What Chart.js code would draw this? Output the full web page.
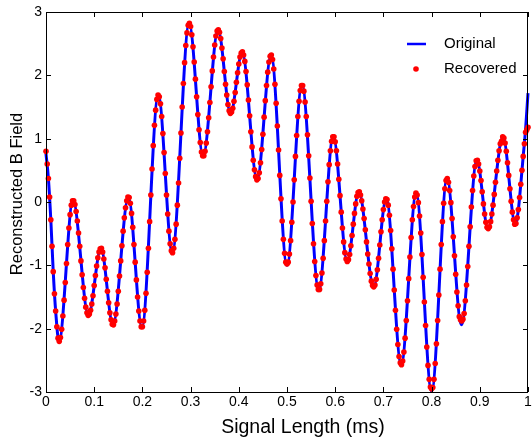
<!DOCTYPE html>
<html>
<head>
<meta charset="utf-8">
<script src="https://cdn.jsdelivr.net/npm/chart.js@4.4.1/dist/chart.umd.min.js"></script>
<style>
  html, body { margin: 0; padding: 0; background: #fff; }
  #wrap { width: 532px; height: 439px; }
</style>
</head>
<body>
<div id="wrap"><canvas id="chart-b-field"></canvas></div>
<script>
// original signal: turning points (ms, field)
const original_time = [
  0, 0.005, 0.010, 0.015, 0.020, 0.027, 0.056, 0.088, 0.114, 0.139,
  0.171, 0.199, 0.233, 0.262, 0.297, 0.326, 0.357, 0.383, 0.407, 0.438,
  0.467, 0.500, 0.531, 0.566, 0.596, 0.625, 0.649, 0.680, 0.706, 0.737,
  0.768, 0.800, 0.832, 0.862, 0.894, 0.917, 0.948, 0.974, 0.980, 0.985,
  0.990, 0.995, 1.000
];
const original_field = [
  0.76, 0.37, -0.28, -1.10, -1.72, -2.20, 0.03, -1.79, -0.73, -1.94,
  0.08, -1.98, 1.69, -0.80, 2.82, 0.72, 2.72, 1.40, 2.37, 0.35,
  2.32, -1.00, 1.85, -1.39, 1.04, -0.94, 0.16, -1.34, 0.06, -2.57,
  0.14, -2.99, 0.37, -1.94, 0.66, -0.42, 1.03, -0.36, -0.12, 0.28,
  0.72, 1.15, 1.72
];

// recovered samples every 0.005 ms, from 0 to 1
const recovered_step = 0.005;
const recovered_field = [
  0.80, 0.37, -0.28, -1.10, -1.72, -2.15,
  -2.14, -1.80, -1.27, -0.67, -0.20, 0.02,
  -0.04, -0.30, -0.70, -1.15, -1.52, -1.75,
  -1.77, -1.61, -1.32, -1.01, -0.79,
  -0.73, -0.90, -1.22, -1.59, -1.86,
  -1.94, -1.77, -1.41, -0.93, -0.46, -0.09, 0.08,
  -0.02, -0.40, -0.95, -1.50, -1.88,
  -1.97, -1.71, -1.11, -0.31, 0.52, 1.21, 1.62,
  1.66, 1.35, 0.78, 0.11, -0.46, -0.77,
  -0.73, -0.35, 0.30, 1.09, 1.87, 2.47, 2.79,
  2.77, 2.45, 1.94, 1.38, 0.94, 0.73,
  0.80, 1.11, 1.57, 2.07, 2.48, 2.70,
  2.68, 2.43, 2.06, 1.69, 1.44,
  1.42, 1.59, 1.89, 2.18, 2.35,
  2.32, 2.06, 1.61, 1.11, 0.66, 0.40,
  0.37, 0.62, 1.07, 1.60, 2.05, 2.30,
  2.25, 1.86, 1.20, 0.42, -0.30, -0.81, -0.98,
  -0.82, -0.32, 0.35, 1.05, 1.59, 1.84,
  1.75, 1.35, 0.73, 0.01, -0.66, -1.16, -1.38,
  -1.29, -0.89, -0.30, 0.32, 0.81, 1.03,
  0.95, 0.60, 0.10, -0.41, -0.80,
  -0.94, -0.83, -0.53, -0.18, 0.09,
  0.16, 0.02, -0.26, -0.63, -0.98, -1.25,
  -1.34, -1.22, -0.89, -0.47, -0.12, 0.05,
  -0.05, -0.45, -1.06, -1.71, -2.25, -2.54,
  -2.51, -2.15, -1.56, -0.87, -0.28, 0.08,
  0.11, -0.22, -0.83, -1.58, -2.29, -2.80, -2.95,
  -2.80, -2.24, -1.47, -0.67, -0.02, 0.34,
  0.31, -0.01, -0.55, -1.14, -1.64, -1.86,
  -1.85, -1.56, -1.02, -0.39, 0.18, 0.56,
  0.66, 0.49, 0.16, -0.19, -0.40,
  -0.39, -0.19, 0.12, 0.49, 0.81, 0.96,
  1.01, 0.80, 0.42, 0.01, -0.28,
  -0.34, -0.12, 0.28, 0.72, 1.10, 1.18
];

// recovered samples in between, at 0.0025, 0.0075, ... 0.9975 ms
const recovered_field_half = [
  0.60, 0.08, -0.70, -1.45, -1.97,
  -2.20, -2.01, -1.55, -0.97, -0.41, -0.05,
  0.02, -0.15, -0.49, -0.93, -1.35, -1.66, -1.79,
  -1.71, -1.48, -1.16, -0.88, -0.74,
  -0.79, -1.04, -1.41, -1.75, -1.93,
  -1.88, -1.61, -1.17, -0.69, -0.25, 0.02,
  0.07, -0.18, -0.67, -1.23, -1.72, -1.97,
  -1.88, -1.44, -0.73, 0.11, 0.89, 1.45, 1.69,
  1.55, 1.08, 0.45, -0.19, -0.66,
  -0.80, -0.59, -0.05, 0.69, 1.50, 2.20, 2.67,
  2.82, 2.64, 2.21, 1.66, 1.14, 0.79,
  0.73, 0.93, 1.33, 1.82, 2.29, 2.62,
  2.72, 2.58, 2.26, 1.86, 1.54, 1.40,
  1.48, 1.73, 2.04, 2.29,
  2.37, 2.22, 1.85, 1.36, 0.87, 0.51, 0.35,
  0.46, 0.83, 1.34, 1.84, 2.21,
  2.32, 2.10, 1.56, 0.82, 0.05, -0.59, -0.95,
  -0.95, -0.61, 0.00, 0.72, 1.35, 1.76,
  1.84, 1.58, 1.06, 0.38, -0.34, -0.94, -1.31,
  -1.38, -1.12, -0.61, 0.01, 0.59, 0.96,
  1.03, 0.81, 0.36, -0.16, -0.63, -0.90,
  -0.91, -0.69, -0.35, -0.03, 0.15,
  0.11, -0.11, -0.44, -0.82, -1.13, -1.32,
  -1.31, -1.07, -0.68, -0.28, 0.00,
  0.04, -0.21, -0.74, -1.39, -2.01, -2.44,
  -2.57, -2.37, -1.87, -1.21, -0.56, -0.07, 0.14,
  -0.01, -0.49, -1.19, -1.95, -2.58, -2.92,
  -2.93, -2.55, -1.87, -1.06, -0.31, 0.21,
  0.37, 0.18, -0.26, -0.85, -1.42, -1.81,
  -1.88, -1.76, -1.31, -0.70, -0.08, 0.41, 0.65,
  0.60, 0.34, -0.03, -0.32,
  -0.42, -0.31, -0.05, 0.31, 0.66, 0.92, 1.03,
  0.93, 0.62, 0.21, -0.16, -0.35,
  -0.25, 0.07, 0.50, 0.92, 1.14
];

const x_ticks = [0, 0.1, 0.2, 0.3, 0.4, 0.5, 0.6, 0.7, 0.8, 0.9, 1];
const y_ticks = [-3, -2, -1, 0, 1, 2, 3];

const series_names = ['Original', 'Recovered'];
const x_title = 'Signal Length (ms)';
const y_title = 'Reconstructed B Field';
const line_color = '#0000ff';
const dot_color = '#ff0000';

const font_family = "'Liberation Sans', Arial, Helvetica, sans-serif";
Chart.defaults.font.family = font_family;
Chart.defaults.color = '#000';

// matlab-ish frame: full box, ticks pointing inward, axis labels, legend without a box
const matlabFrame = {
  id: 'matlabFrame',
  afterDraw(chart) {
    const { ctx, chartArea: a, scales } = chart;
    ctx.save();
    ctx.strokeStyle = '#000';
    ctx.lineWidth = 1;
    ctx.strokeRect(a.left + 0.5, a.top + 0.5, a.right - a.left - 1, a.bottom - a.top);

    const tick = 5;
    ctx.beginPath();
    x_ticks.forEach(v => {
      const px = Math.round(scales.x.getPixelForValue(v)) + 0.5;
      ctx.moveTo(px, a.bottom); ctx.lineTo(px, a.bottom - tick);
      ctx.moveTo(px, a.top); ctx.lineTo(px, a.top + tick);
    });
    y_ticks.forEach(v => {
      const py = Math.round(scales.y.getPixelForValue(v)) + 0.5;
      ctx.moveTo(a.left, py); ctx.lineTo(a.left + tick, py);
      ctx.moveTo(a.right, py); ctx.lineTo(a.right - tick, py);
    });
    ctx.stroke();

    // axis titles
    ctx.fillStyle = '#000';
    ctx.textAlign = 'center';
    ctx.textBaseline = 'alphabetic';
    ctx.font = '19.5px ' + font_family;
    ctx.fillText(x_title, 303, 433);
    ctx.save();
    ctx.translate(22, 194);
    ctx.rotate(-Math.PI / 2);
    ctx.font = '16.5px ' + font_family;
    ctx.fillText(y_title, 0, 0);
    ctx.restore();

    // legend
    ctx.textAlign = 'left';
    ctx.textBaseline = 'middle';
    ctx.font = '15px ' + font_family;
    ctx.strokeStyle = line_color;
    ctx.lineWidth = 2.5;
    ctx.beginPath();
    ctx.moveTo(407, 44); ctx.lineTo(426, 44);
    ctx.stroke();
    ctx.fillText(series_names[0], 444, 44);
    ctx.fillStyle = dot_color;
    ctx.beginPath();
    ctx.arc(416, 69, 2.8, 0, Math.PI * 2);
    ctx.fill();
    ctx.fillStyle = '#000';
    ctx.fillText(series_names[1], 444, 69);
    ctx.restore();
  }
};

const recovered_points = recovered_field.map((v, i) => ({ x: i * recovered_step, y: v }))
  .concat(recovered_field_half.map((v, i) => ({ x: (i + 0.5) * recovered_step, y: v })));

const ctx = document.getElementById('chart-b-field');
new Chart(ctx, {
  type: 'line',
  plugins: [matlabFrame],
  data: {
    datasets: [
      {
        label: series_names[1],
        data: recovered_points,
        showLine: false,
        pointRadius: 2.8,
        pointBorderWidth: 0,
        pointBackgroundColor: dot_color,
        pointBorderColor: dot_color,
        clip: 6,
        order: 0
      },
      {
        label: series_names[0],
        data: original_time.map((t, i) => ({ x: t, y: original_field[i] })),
        borderColor: line_color,
        borderWidth: 3,
        pointRadius: 0,
        fill: false,
        cubicInterpolationMode: 'monotone',
        clip: 4,
        order: 1
      }
    ]
  },
  options: {
    responsive: true,
    maintainAspectRatio: false,
    animation: false,
    events: [],
    layout: {
      padding: { top: 12, right: 2, left: 0, bottom: 0 }
    },
    plugins: {
      legend: { display: false },
      tooltip: { enabled: false }
    },
    scales: {
      x: {
        type: 'linear',
        min: 0,
        max: 1,
        grid: { display: false, drawTicks: false },
        border: { display: false },
        afterBuildTicks: scale => { scale.ticks = x_ticks.map(v => ({ value: v })); },
        afterFit: scale => {
          scale.height = 47;
          scale.paddingLeft = 0;
          scale.paddingRight = 0;
        },
        ticks: {
          autoSkip: false,
          maxRotation: 0,
          padding: 2,
          font: { size: 14 },
          callback: v => String(+v.toFixed(1))
        }
      },
      y: {
        min: -3,
        max: 3,
        grid: { display: false, drawTicks: false },
        border: { display: false },
        afterBuildTicks: scale => { scale.ticks = y_ticks.map(v => ({ value: v })); },
        afterFit: scale => {
          scale.width = 46;
          scale.paddingTop = 0;
          scale.paddingBottom = 0;
        },
        ticks: {
          padding: 4,
          font: { size: 14 }
        }
      }
    }
  }
});
</script>
</body>
</html>
